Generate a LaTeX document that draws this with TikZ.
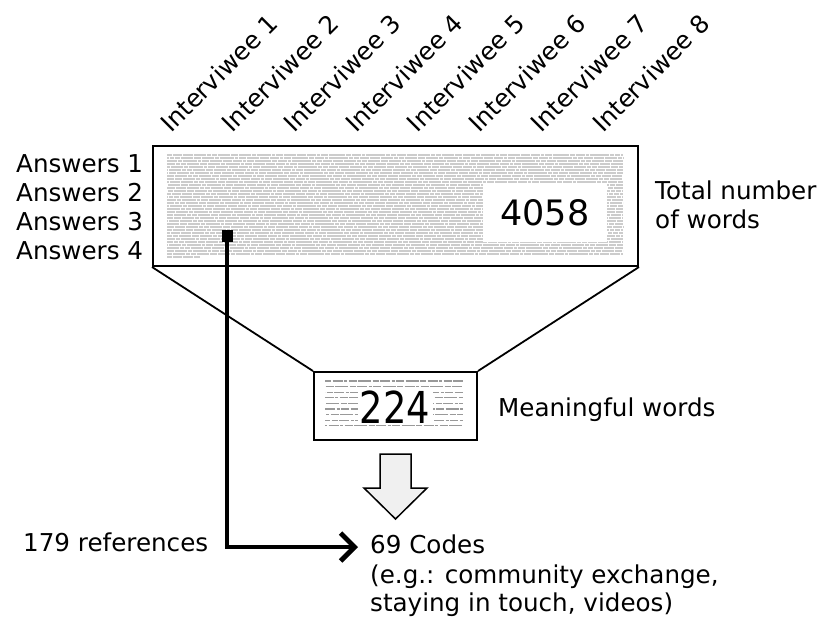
\documentclass[tikz,border=0pt]{standalone}
\usepackage{fontspec}
\setmainfont{DejaVu Sans}
\usetikzlibrary{arrows.meta}
\tikzset{
  lbl/.style={font=\fontsize{24.6}{28}\selectfont, inner sep=0pt, anchor=base west},
  iv/.style={lbl, rotate=45},
  bigtex/.style={draw=gray!40, line width=1.9pt, dash pattern=on 5pt off 0.8pt on 9pt off 0.8pt on 3pt off 0.8pt on 7pt off 0.8pt on 12pt off 0.8pt on 4pt off 0.8pt},
  smalltex/.style={draw=gray!80, line width=1.1pt, dash pattern=on 6pt off 1.5pt on 10pt off 1.5pt on 3pt off 1.5pt on 8pt off 1.5pt on 13pt off 1.5pt},
  box/.style={draw, line width=2pt, inner sep=0pt},
}
\begin{document}
\begin{tikzpicture}[x=1pt,y=-1pt]
\useasboundingbox (0,0) rectangle (819,616);
% big box
\node[box, minimum width=485pt, minimum height=120pt] (big) at (395.5,206) {};
\foreach \i in {0,...,33} {
  \pgfmathsetmacro\yy{155+3*\i}
  \pgfmathsetmacro\ph{mod(\i*37,80)}
  \draw[bigtex, dash phase=\ph pt] (167,\yy) -- (623,\yy);
}
\draw[bigtex] (167,257) -- (200,257);
\fill[white] (483,183) rectangle (607,242);
\node[font=\fontsize{35}{40}\selectfont, inner sep=0pt] (n4058) at (545,213) {4058};
% small box
\node[box, minimum width=163pt, minimum height=68pt] (small) at (395.5,406) {};
\foreach \i in {0,...,8} {
  \pgfmathsetmacro\yy{381+5.6*\i}
  \pgfmathsetmacro\ph{mod(\i*23,60)}
  \draw[smalltex, dash phase=\ph pt] (325,\yy) -- (463,\yy);
}
\fill[white] (358,388) rectangle (433,421);
\node[font=\fontsize{40}{44}\selectfont, inner sep=0pt, yscale=1.1, xscale=0.92] (n224) at (395,407) {224};
% funnel lines
\draw[line width=1.8pt] (big.south west) -- (small.north west);
\draw[line width=1.8pt] (big.south east) -- (small.north east);
% labels
\foreach \k in {1,...,8} {
  \pgfmathsetmacro\xx{171+61.7*(\k-1)}
  \node[iv] (iv\k) at (\xx,134) {Interviwee \k};
}
\node[lbl] (a1) at (16,172) {Answers 1};
\node[lbl] (a2) at (16,201) {Answers 2};
\node[lbl] (a3) at (16,230) {Answers 3};
\node[lbl] (a4) at (16,259) {Answers 4};
\node[lbl] (tn1) at (655,199) {Total number};
\node[lbl] (tn2) at (655,228) {of words};
\node[lbl] (mw) at (498,416) {Meaningful words};
\node[lbl] (refs) at (23,551) {179 references};
\node[lbl] (codes) at (370,553) {69 Codes};
\node[lbl] (eg1) at (370,583) {(e.g.: community exchange,};
\node[lbl] (eg2) at (370,611) {staying in touch, videos)};
% block arrow
\draw[line width=1.5pt, fill=gray!12, line join=miter]
  (380,454) -- (411,454) -- (411,488) -- (427,488) -- (395.5,519) -- (364,488) -- (380,488) -- cycle;
% thick connector
\node[fill=black, minimum width=11pt, minimum height=12pt, inner sep=0pt] (sq) at (227,236) {};
\coordinate (arrend) at (358,547);
\draw[line width=4.8pt, -{Straight Barb[length=14pt, width=28pt]}] (sq.center) |- (arrend);
\end{tikzpicture}
\end{document}
